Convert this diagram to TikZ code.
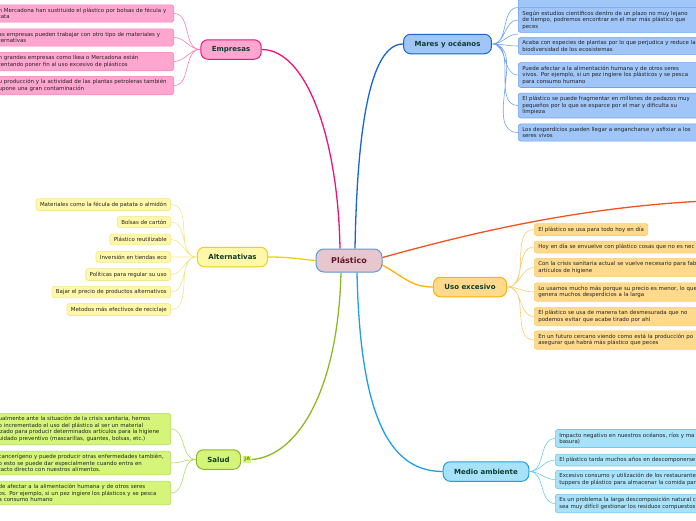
\documentclass[tikz,border=0pt]{standalone}
\usepackage{fontspec}
\setmainfont{DejaVu Sans}
\usetikzlibrary{positioning, calc, backgrounds}
\definecolor{plasfill}{RGB}{232, 198, 205}
\definecolor{plasline}{RGB}{91, 155, 213}
\definecolor{plastext}{RGB}{94, 22, 46}
\definecolor{topictext}{RGB}{14, 60, 46}
\definecolor{leaftext}{RGB}{34, 34, 34}
\definecolor{emppink}{RGB}{255, 166, 208}
\definecolor{empline}{RGB}{232, 20, 124}
\definecolor{empleafline}{RGB}{246, 128, 186}
\definecolor{marfill}{RGB}{160, 197, 248}
\definecolor{marline}{RGB}{21, 101, 216}
\definecolor{marleafline}{RGB}{112, 162, 238}
\definecolor{usofill}{RGB}{255, 218, 140}
\definecolor{usoline}{RGB}{255, 179, 0}
\definecolor{usoleafline}{RGB}{247, 205, 112}
\definecolor{altfill}{RGB}{255, 248, 168}
\definecolor{altline}{RGB}{236, 208, 20}
\definecolor{altleafline}{RGB}{243, 229, 140}
\definecolor{salfill}{RGB}{212, 245, 122}
\definecolor{salline}{RGB}{140, 186, 36}
\definecolor{salleafline}{RGB}{176, 220, 100}
\definecolor{jatext}{RGB}{110, 150, 0}
\definecolor{medfill}{RGB}{168, 226, 250}
\definecolor{medline}{RGB}{30, 160, 230}
\definecolor{medleafline}{RGB}{112, 200, 240}
\definecolor{redline}{RGB}{244, 81, 30}
\tikzset{
    rootnode/.style={
        draw=plasline, line width=1pt, fill=plasfill, rounded corners=8pt,
        minimum width=66pt, minimum height=23pt, text=plastext,
        font=\fontsize{8}{9}\selectfont\bfseries
    },
    topic/.style={
        draw, line width=1pt, rounded corners=7pt, minimum height=19.5pt,
        inner xsep=11pt, inner ysep=0pt, text=topictext,
        font=\fontsize{7}{8}\selectfont\bfseries
    },
    leaf/.style={
        draw, line width=0.6pt, rounded corners=2.5pt, inner xsep=4pt, inner ysep=3.2pt,
        align=left, text=leaftext, font=\fontsize{5.45}{6.5}\selectfont
    },
    rleaf/.style={leaf, anchor=west, text width=190pt},
    lleaf/.style={leaf, anchor=east},
    branch/.style={line width=1.3pt},
    twig/.style={line width=0.6pt},
    toleft/.style={out=180, in=0},
    toright/.style={out=0, in=180}
}
\begin{document}
\begin{tikzpicture}[
        x=1pt, y=1pt,
        % --- STYLE ---
        emptopic/.style={topic, fill=emppink, draw=empline},
        empleaf/.style={lleaf, fill=emppink, draw=empleafline, text width=171pt},
        martopic/.style={topic, fill=marfill, draw=marline},
        marleaf/.style={rleaf, fill=marfill, draw=marleafline},
        usotopic/.style={topic, fill=usofill, draw=usoline},
        usoleaf/.style={rleaf, fill=usofill, draw=usoleafline},
        alttopic/.style={topic, fill=altfill, draw=altline},
        altleaf/.style={lleaf, fill=altfill, draw=altleafline},
        saltopic/.style={topic, fill=salfill, draw=salline},
        salleaf/.style={lleaf, fill=salfill, draw=salleafline, text width=168pt},
        medtopic/.style={topic, fill=medfill, draw=medline},
        medleaf/.style={rleaf, fill=medfill, draw=medleafline}
    ]
    \useasboundingbox (0,0) rectangle (696,-520);

    % --- CENTRO ---
    \node[rootnode] (plas) at (349,-260.5) {Plástico};

    % --- EMPRESAS ---
    \node[emptopic] (emp) at (231,-49.5) {Empresas};
    \node[empleaf] (emp1) at (174,-13.5) {n Mercadona han sustituido el plástico por bolsas de fécula y\\tata};
    \node[empleaf] (emp2) at (174,-37.5) {as empresas pueden trabajar con otro tipo de materiales y\\ternativas};
    \node[empleaf] (emp3) at (174,-61.5) {n grandes empresas como Ikea o Mercadona están\\tentando poner fin al uso excesivo de plásticos};
    \node[empleaf] (emp4) at (174,-85.5) {u producción y la actividad de las plantas petroleras también\\upone una gran contaminación};

    % --- MARES Y OCÉANOS ---
    \node[martopic] (mar) at (447.5,-44) {Mares y océanos};
    \node[marleaf, minimum height=19pt] (mar0) at (518,-7.5) {};
    \coordinate (mar00) at (518,-34);
    \node[marleaf] (mar1) at (518,-20) {Según estudios científicos dentro de un plazo no muy lejano\\de tiempo, podremos encontrar en el mar más plástico que\\peces};
    \node[marleaf] (mar2) at (518,-46) {Acaba con especies de plantas por lo que perjudica y reduce la\\biodiversidad de los ecosistemas};
    \node[marleaf] (mar3) at (518,-75) {Puede afectar a la alimentación humana y de otros seres\\vivos. Por ejemplo, si un pez ingiere los plásticos y se pesca\\para consumo humano};
    \node[marleaf] (mar4) at (518,-105.5) {El plástico se puede fragmentar en millones de pedazos muy\\pequeños por lo que se esparce por el mar y dificulta su\\limpieza};
    \node[marleaf] (mar5) at (518,-132.5) {Los desperdicios pueden llegar a engancharse y asfixiar a los\\seres vivos};

    % rama que sale del dibujo
    \coordinate (far) at (730,-200);

    % --- USO EXCESIVO ---
    \node[usotopic] (uso) at (470,-287) {Uso excesivo};
    \node[leaf, anchor=west, fill=usofill, draw=usoleafline] (uso1) at (534,-229.5) {El plástico se usa para todo hoy en día};
    \node[usoleaf] (uso2) at (534,-247) {Hoy en día se envuelve con plástico cosas que no es nec};
    \node[usoleaf] (uso3) at (534,-267.5) {Con la crisis sanitaria actual se vuelve necesario para fab\\artículos de higiene};
    \node[usoleaf] (uso4) at (534,-292) {Lo usamos mucho más porque su precio es menor, lo que\\genera muchos desperdicios a la larga};
    \node[usoleaf] (uso5) at (534,-316.5) {El plástico se usa de manera tan desmesurada que no\\podemos evitar que acabe tirado por ahí};
    \node[usoleaf] (uso6) at (534,-340) {En un futuro cercano viendo como está la producción po\\asegurar que habrá más plástico que peces};

    % --- ALTERNATIVAS ---
    \node[alttopic] (alt) at (232.5,-257) {Alternativas};
    \node[altleaf] (alt1) at (171,-204.5) {Materiales como la fécula de patata o almidón};
    \node[altleaf] (alt2) at (171,-222) {Bolsas de cartón};
    \node[altleaf] (alt3) at (171,-239.5) {Plástico reutilizable};
    \node[altleaf] (alt4) at (171,-257) {Inversión en tiendas eco};
    \node[altleaf] (alt5) at (171,-274.5) {Políticas para regular su uso};
    \node[altleaf] (alt6) at (171,-292) {Bajar el precio de productos alternativos};
    \node[altleaf] (alt7) at (171,-309.5) {Metodos más efectivos de reciclaje};

    % --- SALUD ---
    \node[saltopic] (sal) at (218.5,-459.5) {Salud};
    \node[right=2pt of sal, fill=salfill, inner sep=1.2pt, text=jatext, font=\fontsize{5}{6}\selectfont\bfseries] (ja) {JA};
    \node[salleaf] (sal1) at (171,-429) {ualmente ante la situación de la crisis sanitaria, hemos\\o incrementado el uso del plástico al ser un material\\izado para producir determinados artículos para la higiene\\uidado preventivo (mascarillas, guantes, bolsas, etc.)};
    \node[salleaf] (sal2) at (171,-463) {cancerígeno y puede producir otras enfermedades también,\\o esto se puede dar especialmente cuando entra en\\tacto directo con nuestros alimentos.};
    \node[salleaf] (sal3) at (171,-493) {de afectar a la alimentación humana y de otros seres\\os. Por ejemplo, si un pez ingiere los plásticos y se pesca\\a consumo humano};

    % --- MEDIO AMBIENTE ---
    \node[medtopic] (med) at (486,-471.5) {Medio ambiente};
    \node[medleaf] (med1) at (555,-438.5) {Impacto negativo en nuestros océanos, ríos y ma\\basura)};
    \node[medleaf] (med2) at (555,-460) {El plástico tarda muchos años en descomponerse};
    \node[medleaf] (med3) at (555,-479.5) {Excesivo consumo y utilización de los restaurante\\tuppers de plástico para almacenar la comida par};
    \node[medleaf] (med4) at (555,-503.5) {Es un problema la larga descomposición natural c\\sea muy difícil gestionar los residuos compuestos};

    \begin{scope}[on background layer]
        % ramas principales
        \draw[branch, empline] ($(plas.north)+(-9,0)$) .. controls +(-2,110) and +(45,0) .. (emp.east);
        \draw[branch, marline] ($(plas.north)+(6,0)$) .. controls +(2,110) and +(-35,0) .. (mar.west);
        \draw[branch, redline] ($(plas.east)+(0,3)$) .. controls +(90,25) and +(-140,-4) .. (far);
        \draw[branch, usoline] ($(plas.east)+(-1,-4)$) .. controls +(22,-12) and +(-22,0) .. (uso.west);
        \draw[branch, altline] (plas.west) .. controls +(-20,2) and +(20,0) .. (alt.east);
        \draw[branch, salline] ($(plas.south)+(-8,0)$) .. controls +(-3,-120) and +(45,3) .. (ja.east);
        \draw[branch, medline] ($(plas.south)+(8,0)$) .. controls +(3,-140) and +(-55,0) .. (med.west);

        % ramitas
        \draw[twig, empleafline] (emp.west) to[toleft] (emp1.east) (emp.west) to[toleft] (emp2.east)
            (emp.west) to[toleft] (emp3.east) (emp.west) to[toleft] (emp4.east);
        \draw[twig, marleafline] (mar.east) to[toright] (mar00) (mar.east) to[toright] (mar0.west)
            (mar.east) to[toright] (mar1.west) (mar.east) to[toright] (mar2.west)
            (mar.east) to[toright] (mar3.west) (mar.east) to[toright] (mar4.west)
            (mar.east) to[toright] (mar5.west);
        \draw[twig, usoleafline] (uso.east) to[toright] (uso1.west) (uso.east) to[toright] (uso2.west)
            (uso.east) to[toright] (uso3.west) (uso.east) to[toright] (uso4.west)
            (uso.east) to[toright] (uso5.west) (uso.east) to[toright] (uso6.west);
        \draw[twig, altleafline] (alt.west) to[toleft] (alt1.east) (alt.west) to[toleft] (alt2.east)
            (alt.west) to[toleft] (alt3.east) (alt.west) to[toleft] (alt4.east)
            (alt.west) to[toleft] (alt5.east) (alt.west) to[toleft] (alt6.east)
            (alt.west) to[toleft] (alt7.east);
        \draw[twig, salleafline] (sal.west) to[toleft] (sal1.east) (sal.west) to[toleft] (sal2.east)
            (sal.west) to[toleft] (sal3.east);
        \draw[twig, medleafline] (med.east) to[toright] (med1.west) (med.east) to[toright] (med2.west)
            (med.east) to[toright] (med3.west) (med.east) to[toright] (med4.west);
    \end{scope}

\end{tikzpicture}
\end{document}
